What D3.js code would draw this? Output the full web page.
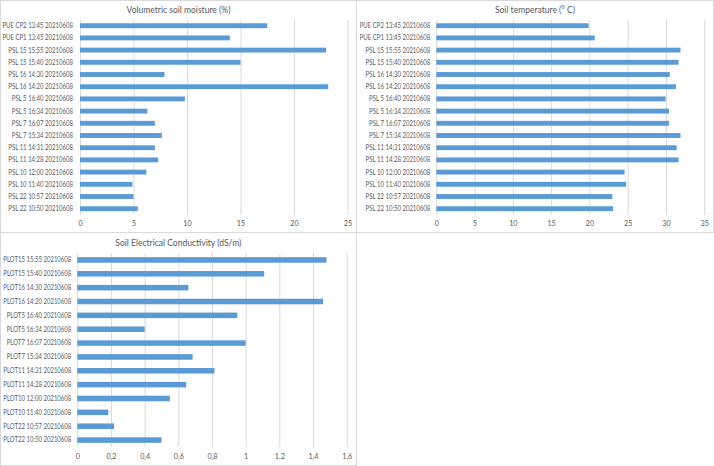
<!DOCTYPE html>
<html><head><meta charset="utf-8">
<script src="https://cdn.jsdelivr.net/npm/d3@7"></script>
<style>
html,body{margin:0;padding:0;background:#fff;}
svg{display:block;}
text{font-family:Lato,"Open Sans",sans-serif;fill:#595959;}
</style></head>
<body>
<svg id="c" width="714" height="466"></svg>
<script>
// ---- data ----
const moistureCategories = ["PUE CP2 13:45 20210608","PUE CP1 13:45 20210608","PSL 15 15:55 20210608","PSL 15 15:40 20210608","PSL 16 14:30 20210608","PSL 16 14:20 20210608","PSL 5 16:40 20210608","PSL 5 16:34 20210608","PSL 7 16:07 20210608","PSL 7 15:34 20210608","PSL 11 14:31 20210608","PSL 11 14:28 20210608","PSL 10 12:00 20210608","PSL 10 11:40 20210608","PSL 22 10:57 20210608","PSL 22 10:50 20210608"];
const moistureValues = [17.5,14.0,23.0,15.0,7.9,23.2,9.8,6.3,7.0,7.65,7.0,7.3,6.2,4.9,5.0,5.4];
const moistureTicks = [0,5,10,15,20,25];

const temperatureCategories = moistureCategories.slice();
const temperatureValues = [19.9,20.7,31.9,31.65,30.5,31.3,29.95,30.4,30.4,31.9,31.4,31.65,24.6,24.8,23.0,23.1];
const temperatureTicks = [0,5,10,15,20,25,30,35];

const ecCategories = ["PLOT15 15:55 20210608","PLOT15 15:40 20210608","PLOT16 14:30 20210608","PLOT16 14:20 20210608","PLOT5 16:40 20210608","PLOT5 16:34 20210608","PLOT7 16:07 20210608","PLOT7 15:34 20210608","PLOT11 14:31 20210608","PLOT11 14:28 20210608","PLOT10 12:00 20210608","PLOT10 11:40 20210608","PLOT22 10:57 20210608","PLOT22 10:50 20210608"];
const ecValues = [1.48,1.11,0.66,1.46,0.95,0.40,1.0,0.685,0.815,0.647,0.55,0.184,0.218,0.5];
const ecTicks = [0,0.2,0.4,0.6,0.8,1,1.2,1.4,1.6];

const titles = ["Volumetric soil moisture (%)","Soil temperature (° C)","Soil Electrical Conductivity (dS/m)"];

// ---- drawing ----
const svg = d3.select("#c");
const BAR = "#5B9BD5", GRID = "#d9d9d9";
const comma = d3.formatLocale({decimal:",",thousands:".",grouping:[3],currency:["",""]}).format("~g");

// panel borders
svg.append("rect").attr("x",0.5).attr("y",0.5).attr("width",356).attr("height",232).attr("fill","none").attr("stroke",GRID);
svg.append("rect").attr("x",356.5).attr("y",0.5).attr("width",357).attr("height",232).attr("fill","none").attr("stroke",GRID);
svg.append("rect").attr("x",0.5).attr("y",232.5).attr("width",356).attr("height",233).attr("fill","none").attr("stroke",GRID);

function panel(cfg){
  const g = svg.append("g");
  const x = d3.scaleLinear().domain(cfg.domain).range(cfg.xr);
  const y = d3.scaleBand().domain(cfg.cats).range(cfg.yr).paddingInner(0.6).paddingOuter(0.3);
  // grid + tick labels
  const ax = d3.axisBottom(x).tickValues(cfg.ticks).tickSizeInner(-(cfg.yr[1]-cfg.yr[0])).tickSizeOuter(0)
     .tickPadding(cfg.tp).tickFormat(cfg.fmt);
  const a = g.append("g").attr("transform",`translate(0,${cfg.yr[1]})`).call(ax);
  a.select(".domain").remove();
  a.selectAll("line").attr("stroke",GRID).attr("stroke-width",1);
  a.selectAll("text").attr("font-size",7.2).attr("fill","#595959").style("font-family","Lato,sans-serif");
  // bars
  g.selectAll("rect.bar").data(cfg.cats.map((c,i)=>({c,v:cfg.vals[i]}))).join("rect")
    .attr("class","bar").attr("x",x(0)).attr("y",d=>y(d.c)).attr("width",d=>x(d.v)-x(0))
    .attr("height",y.bandwidth()).attr("fill",BAR);
  // category labels
  g.selectAll("text.lab").data(cfg.cats).join("text").attr("class","lab")
    .attr("text-anchor","end").attr("font-size",7)
    .attr("transform",d=>`translate(${x(0)-cfg.lgap},${y(d)+y.bandwidth()/2+2.4}) scale(0.86,1)`)
    .text(d=>d);
  // title
  g.append("text").attr("text-anchor","middle").attr("font-size",9.5)
    .attr("transform",`translate(${cfg.tx},${cfg.ty}) scale(0.9,1)`).text(cfg.title);
}

panel({cats:moistureCategories, vals:moistureValues, ticks:moistureTicks, domain:[0,25], xr:[80,347.5], yr:[19.6,214.8], tp:6, fmt:d3.format("d"), lgap:7, title:titles[0], tx:178.5, ty:13});
panel({cats:temperatureCategories, vals:temperatureValues, ticks:temperatureTicks, domain:[0,35], xr:[436.3,704.2], yr:[19.6,214.8], tp:6, fmt:d3.format("d"), lgap:6, title:titles[1], tx:535, ty:13});
panel({cats:ecCategories, vals:ecValues, ticks:ecTicks, domain:[0,1.6], xr:[77.3,346.7], yr:[253,447], tp:7, fmt:comma, lgap:6, title:titles[2], tx:178.3, ty:245.5});
</script>
</body></html>
